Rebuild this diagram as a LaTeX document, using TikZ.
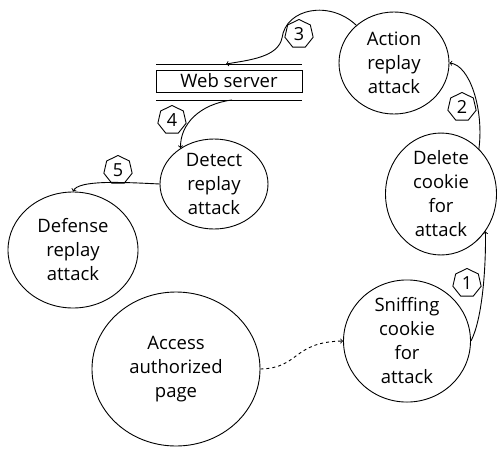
\documentclass[tikz,border=0pt]{standalone}
\usepackage{fontspec}
\setmainfont{Open Sans}
\usetikzlibrary{shapes.geometric}
\begin{document}
\begin{tikzpicture}[x=1pt,y=-1pt,line width=0.9pt,
  state/.style={ellipse,draw,inner sep=0pt,align=center,font=\fontsize{18.5}{24}\selectfont},
  tag/.style={regular polygon,regular polygon sides=7,draw,inner sep=0pt,minimum size=29pt,font=\fontsize{18}{20}\selectfont},
  conn/.style={->},
]
\useasboundingbox (0,0) rectangle (498,450);
\node[state,minimum width=110pt,minimum height=102pt] (action) at (394,63) {Action\\replay\\attack};
\node[state,minimum width=111pt,minimum height=100pt] (delete) at (441,194) {Delete\\cookie\\for\\attack};
\node[state,minimum width=127pt,minimum height=114pt] (sniff) at (407,341) {Sniffing\\cookie\\for\\attack};
\node[state,minimum width=168pt,minimum height=154pt] (access) at (176,369) {Access\\authorized\\page};
\node[state,minimum width=130pt,minimum height=116pt] (defense) at (73,250) {Defense\\replay\\attack};
\node[state,minimum width=108pt,minimum height=90pt] (detect) at (214,184) {Detect\\replay\\attack};
\node[draw,minimum width=146pt,minimum height=22pt,inner sep=0pt,font=\fontsize{18.5}{20}\selectfont] (web) at (229,81) {Web server};
\draw (156,64) coordinate (wtl) -- (302,64) coordinate (wtr);
\draw (156,100) coordinate (wbl) -- (302,100) coordinate (wbr);
\coordinate (w3) at (226,64);
\coordinate (w4) at (232,100);
\node[tag] (t3) at (299,34) {3};
\node[tag] (t4) at (172,120) {4};
\node[tag] (t5) at (118,170) {5};
\node[tag] (t2) at (462,107) {2};
\node[tag] (t1) at (467,283) {1};
\draw[conn] (action.135) .. controls (330,0) and (286,8) .. (282,38) .. controls (278,57) and (250,60) .. (w3);
\draw[conn] (w4) .. controls (200,104) and (180,124) .. (detect.133);
\draw[conn] (detect.west) .. controls (120,182) and (78,180) .. (defense.north);
\draw[conn,dashed] (access.east) .. controls (300,368) and (292,342) .. (sniff.west);
\draw[conn] (sniff.east) .. controls (482,320) and (486,270) .. (delete.-40);
\draw[conn] (delete.50) .. controls (484,110) and (470,65) .. (action.east);
\end{tikzpicture}
\end{document}
